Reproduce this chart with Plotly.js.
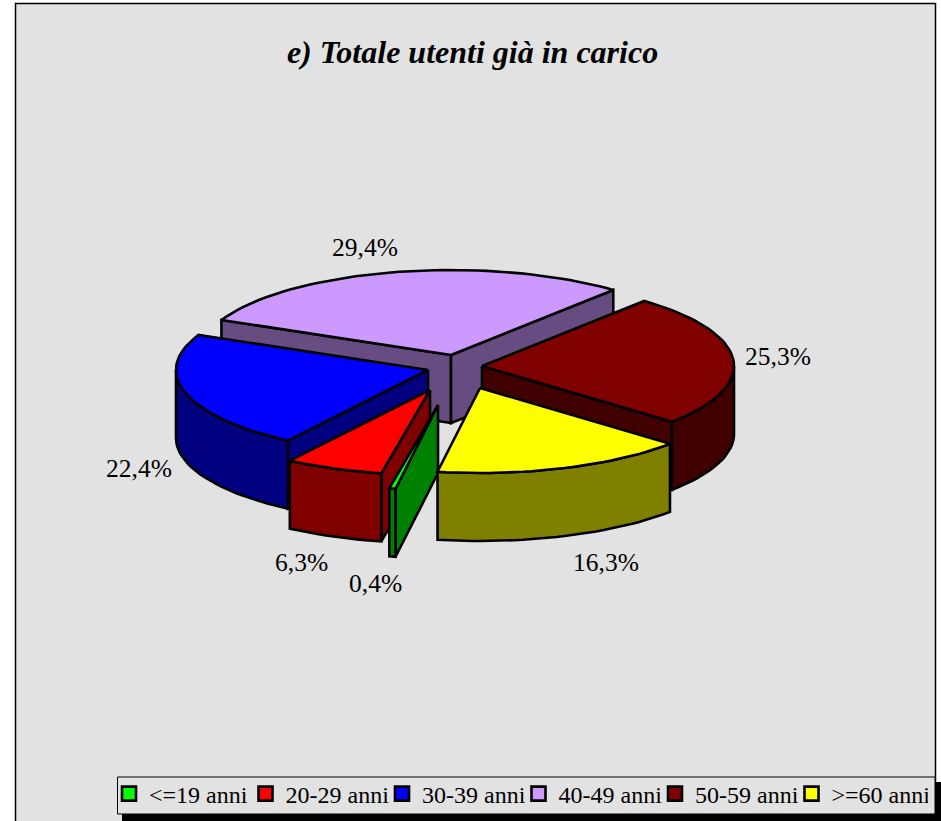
<!DOCTYPE html>
<html>
<head>
<meta charset="utf-8">
<script src="https://cdn.plot.ly/plotly-3.0.1.min.js"></script>
<style>html,body{margin:0;padding:0;background:#fff;overflow:hidden}#chart{width:941px;height:821px}</style>
</head>
<body>
<div id="chart"></div>
<script>
const categories = ['<=19 anni','20-29 anni','30-39 anni','40-49 anni','50-59 anni','>=60 anni'];
const values = [0.4, 6.3, 22.4, 29.4, 25.3, 16.3];
const topColors = ['#00ff00','#ff0000','#0000ff','#cc99ff','#800000','#ffff00'];
const sideColors = ['#008000','#800000','#000080','#664c80','#400000','#808000'];
const titleText = 'e) Totale utenti già in carico';

// projection of the tilted pie (chart pixels)
const FIRST_ANGLE = 189.7, RX = 252, RY = 85, DEPTH = 68;
const CX = 455, CY = 367;
// how far each slice is pulled out of the pie, in x and y
const pullX = [-17, -25, -27, -4, 27, 25];
const pullY = [38, 23, 3, -12, -1, 21];
const drawOrder = [3, 4, 2, 1, 0, 5];
const labelX = [375, 301, 139, 365, 778, 606];
const labelY = [583, 562, 468, 247, 356, 562];

const rad = d => d * Math.PI / 180;
const total = values.reduce((a, b) => a + b, 0);
let acc = FIRST_ANGLE;
const slices = values.map((v, i) => {
  const a1 = acc, a2 = acc + v / total * 360;
  acc = a2;
  return {i, a1, a2, ax: CX + pullX[i], ay: CY + pullY[i]};
});
const rimPoint = (s, a, dz) => [s.ax + RX * Math.sin(rad(a)), s.ay - RY * Math.cos(rad(a)) + dz];

function poly(pts, fill) {
  return {
    x: pts.map(p => p[0]), y: pts.map(p => p[1]),
    mode: 'lines', fill: 'toself', fillcolor: fill,
    line: {color: '#000', width: 2.6, shape: 'linear'},
    hoverinfo: 'skip', showlegend: false
  };
}
function arc(s, a, b, dz) {
  const n = Math.max(2, Math.ceil(Math.abs(b - a) / 2));
  const out = [];
  for (let k = 0; k <= n; k++) out.push(rimPoint(s, a + (b - a) * k / n, dz));
  return out;
}

const traces = [];
drawOrder.forEach(i => {
  const s = slices[i];
  const side = sideColors[i];
  const apexTop = [s.ax, s.ay], apexBot = [s.ax, s.ay + DEPTH];
  // flat cut faces, only when they face the viewer
  if (Math.cos(rad(s.a1 - 90)) < 0) {
    traces.push(poly([apexTop, rimPoint(s, s.a1, 0), rimPoint(s, s.a1, DEPTH), apexBot, apexTop], side));
  }
  if (Math.cos(rad(s.a2 + 90)) < 0) {
    traces.push(poly([apexTop, rimPoint(s, s.a2, 0), rimPoint(s, s.a2, DEPTH), apexBot, apexTop], side));
  }
  // curved outer wall: the part of the rim that lies between 90 and 270 degrees
  for (const shift of [0, 360, -360]) {
    const from = Math.max(s.a1 + shift, 90), to = Math.min(s.a2 + shift, 270);
    if (to > from) {
      const wall = arc(s, from, to, 0).concat(arc(s, to, from, DEPTH));
      wall.push(wall[0]);
      traces.push(poly(wall, side));
    }
  }
  // top face
  const top = [apexTop].concat(arc(s, s.a1, s.a2, 0));
  top.push(apexTop);
  traces.push(poly(top, topColors[i]));
});

// legend entries
categories.forEach((c, i) => traces.push({
  x: [null], y: [null], mode: 'markers', name: c, hoverinfo: 'skip',
  marker: {symbol: 'square', size: 14, color: topColors[i], line: {color: '#000', width: 2.6}}
}));

const serif = '"Liberation Serif","Times New Roman",serif';
const fmt = v => v.toFixed(1).replace('.', ',') + '%';
const layout = {
  width: 941, height: 821,
  margin: {l: 0, r: 0, t: 0, b: 0, pad: 0, autoexpand: false},
  paper_bgcolor: '#ffffff', plot_bgcolor: 'rgba(0,0,0,0)',
  xaxis: {range: [0, 941], visible: false, fixedrange: true},
  yaxis: {range: [821, 0], visible: false, fixedrange: true},
  title: {
    text: titleText, x: 472.5 / 941, xanchor: 'center', y: 1 - 52 / 821, yanchor: 'middle',
    font: {family: serif, size: 32, color: '#000', weight: 700, style: 'italic'}
  },
  showlegend: true,
  legend: {
    orientation: 'h', x: 109 / 941, xanchor: 'left', y: 1 - 771.5 / 821, yanchor: 'top',
    bgcolor: 'rgba(0,0,0,0)', borderwidth: 0,
    entrywidth: 91.5, entrywidthmode: 'pixels', traceorder: 'normal',
    font: {family: serif, size: 24, color: '#000'}
  },
  shapes: [
    {type: 'rect', layer: 'below', xref: 'x', yref: 'y', x0: 15.5, x1: 935.5, y0: 3.5, y1: 830,
     fillcolor: '#e2e2e2', line: {color: '#000', width: 1.5}},
    {type: 'rect', layer: 'below', xref: 'x', yref: 'y', x0: 122, x1: 941, y0: 782, y1: 821,
     fillcolor: '#000', line: {width: 0}},
    {type: 'rect', layer: 'below', xref: 'x', yref: 'y', x0: 117.5, x1: 935, y0: 777, y1: 814,
     fillcolor: '#e2e2e2', line: {color: '#000', width: 1}}
  ],
  annotations: values.map((v, i) => ({
    x: labelX[i], y: labelY[i], xref: 'x', yref: 'y', text: fmt(v), showarrow: false,
    xanchor: 'center', yanchor: 'middle',
    font: {family: serif, size: 25.5, color: '#000'}
  }))
};
Plotly.newPlot('chart', traces, layout, {displayModeBar: false, staticPlot: true});
</script>
</body>
</html>
